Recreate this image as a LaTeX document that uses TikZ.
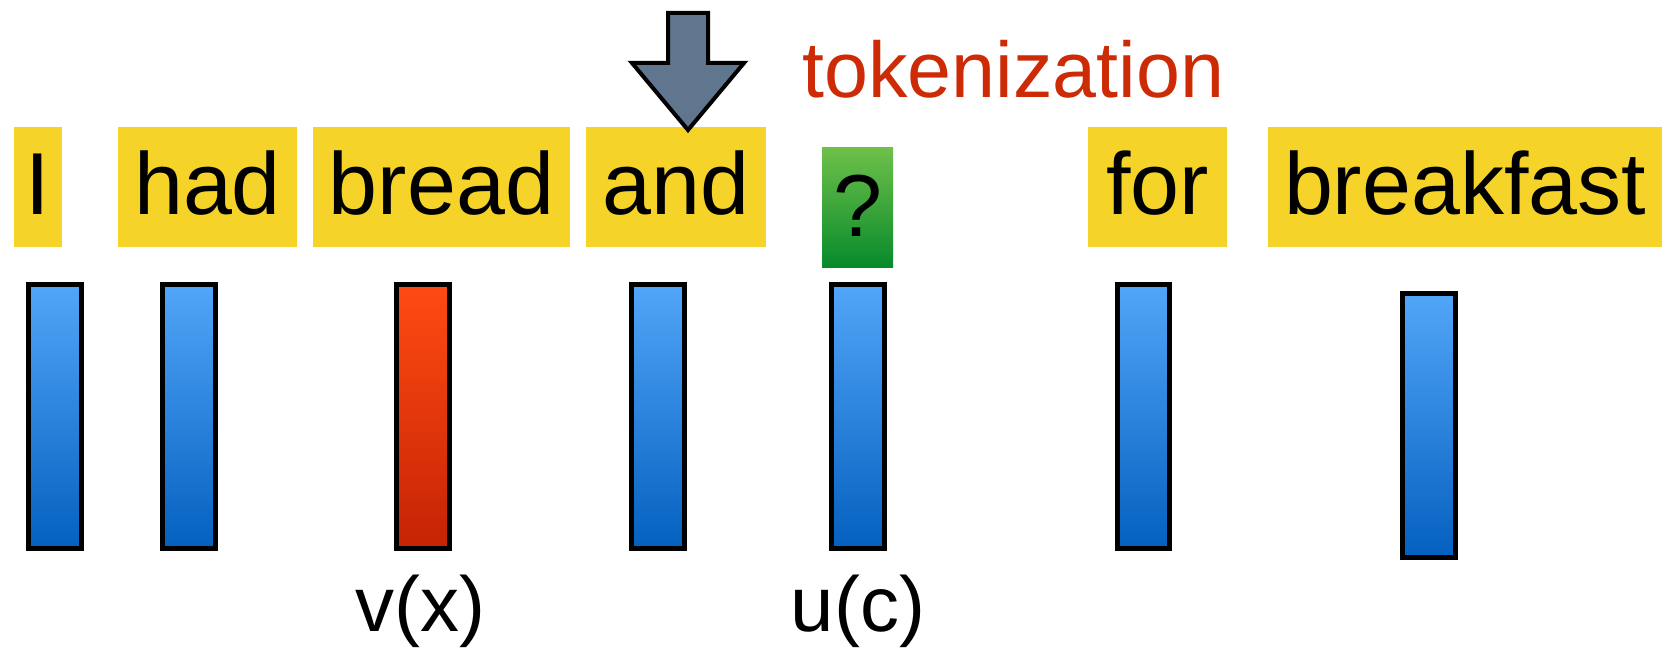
\documentclass[tikz,border=0pt]{standalone}
\usepackage{fontspec}
\setmainfont{Liberation Sans}
\definecolor{wordyellow}{HTML}{F5D328}
\definecolor{bluetop}{HTML}{52A6F8}
\definecolor{bluebot}{HTML}{0460BF}
\definecolor{redtop}{HTML}{FF4B12}
\definecolor{redbot}{HTML}{C52305}
\definecolor{greentop}{HTML}{6EC04A}
\definecolor{greenbot}{HTML}{078A2B}
\definecolor{arrowfill}{HTML}{60768F}
\definecolor{tokred}{HTML}{CD2A06}
\begin{document}
\begin{tikzpicture}[x=0.5pt,y=-0.5pt,
  wordbox/.style={fill=wordyellow, inner sep=0pt, anchor=base, text height=44pt, text depth=16pt, font=\fontsize{44}{50}\selectfont, align=center},
  qbox/.style={top color=greentop, bottom color=greenbot, inner sep=0pt, anchor=base, text height=44.5pt, text depth=15.5pt, minimum width=35.5pt, font=\fontsize{44}{50}\selectfont},
  vecbar/.style={draw=black, line width=2.5pt, minimum width=26.2pt, minimum height=132pt, inner sep=0pt},
  bluebar/.style={vecbar, top color=bluetop, bottom color=bluebot},
  redbar/.style={vecbar, top color=redtop, bottom color=redbot},
  lbl/.style={anchor=base, inner sep=0pt, font=\fontsize{39}{45}\selectfont}
]
\useasboundingbox (0,0) rectangle (1667,651);

% word boxes
\node[wordbox, minimum width=24pt] (wI) at (38,215) {I};
\node[wordbox, minimum width=89.5pt] (whad) at (207.5,215) {had};
\node[wordbox, minimum width=128.5pt] (wbread) at (441.5,215) {bread};
\node[wordbox, minimum width=90pt] (wand) at (676,215) {and};
\node[qbox] (wq) at (857.5,237) {?};
\node[wordbox, minimum width=69.5pt] (wfor) at (1157.5,215) {for};
\node[wordbox, minimum width=197pt] (wbreakfast) at (1465,215) {breakfast};

% tokenization label and arrow
\node[anchor=base west, inner sep=0pt, text=tokred, font=\fontsize{39.5}{45}\selectfont] (tok) at (802,98) {tokenization};
\draw[line width=2pt, fill=arrowfill, line join=miter]
  (668,13) -- (708,13) -- (708,63) -- (744,63) -- (688,130) -- (632,63) -- (668,63) -- cycle;

% vectors
\node[bluebar] (b1) at (55.1,416.5) {};
\node[bluebar] (b2) at (189,416.5) {};
\node[redbar] (b3) at (423,416.5) {};
\node[bluebar] (b4) at (658,416.5) {};
\node[bluebar] (b5) at (858,416.5) {};
\node[bluebar] (b6) at (1143.5,416.5) {};
\node[bluebar] (b7) at (1428.8,425.8) {};

% labels
\node[lbl] (vx) at (420.5,632) {v(x)};
\node[lbl] (uc) at (858,632) {u(c)};
\end{tikzpicture}
\end{document}
